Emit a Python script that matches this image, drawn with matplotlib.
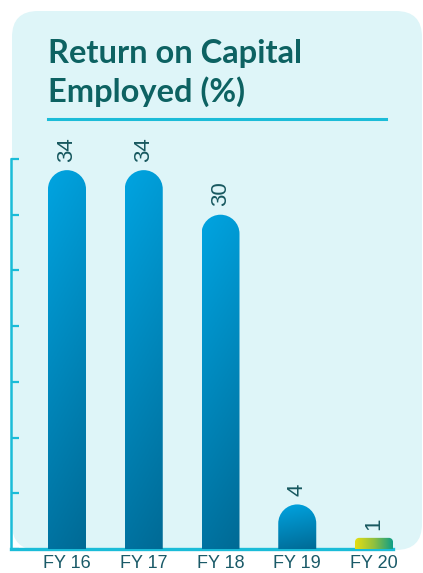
import numpy as np
import matplotlib
matplotlib.use("Agg")
import matplotlib.pyplot as plt
from matplotlib.patches import FancyBboxPatch, PathPatch
from matplotlib.path import Path
from matplotlib.colors import LinearSegmentedColormap
from matplotlib.transforms import IdentityTransform

# ---- data ----
categories = ["FY 16", "FY 17", "FY 18", "FY 19", "FY 20"]
values = [34, 34, 30, 4, 1]
title_lines = ["Return on Capital", "Employed (%)"]

W, H = 423, 573
fig = plt.figure(figsize=(W / 100, H / 100), dpi=100)
fig.patch.set_facecolor("white")

# background panel (pixel coords, origin bottom-left)
panel = FancyBboxPatch((12 + 26, 23 + 26), 422 - 12 - 52, 562 - 23 - 52,
                       boxstyle="round,pad=26", transform=IdentityTransform(),
                       facecolor="#def5f8", edgecolor="none", zorder=-5)
fig.patches.append(panel)

teal = "#0d6262"
for j, line in enumerate(title_lines):
    fig.text(48 / W, 1 - (63 + 39 * j) / H, line, ha="left", va="baseline",
             fontsize=23.5, fontweight="bold", family="Lato", color=teal)
fig.add_artist(plt.Line2D([48 / W, 386 / W], [1 - 119 / H] * 2, color="#1bbcd8",
                          lw=2.2, transform=fig.transFigure))

# axes
ax = fig.add_axes([11 / W, 1 - 549 / H, (395 - 11) / W, (549 - 159) / H])
ax.patch.set_alpha(0)
x = np.arange(len(categories))
spacing = 76.75
xlim = (-(67 - 11) / spacing, (395 - 67) / spacing)
ax.set_xlim(*xlim)
ax.set_ylim(0, 35)
ax.set_yticks(np.arange(0, 36, 5))
ax.set_yticklabels([])
ax.tick_params(axis="y", direction="in", length=6, width=1.6, color="#1bbcd8")
ax.set_xticks(x)
ax.set_xticklabels(categories, fontsize=13, family="Liberation Sans", color="#1a5a68")
ax.tick_params(axis="x", length=0, pad=4.5)
for s in ["top", "right"]:
    ax.spines[s].set_visible(False)
ax.spines["left"].set_color("#1bbcd8")
ax.spines["left"].set_linewidth(1.8)
ax.spines["bottom"].set_color("#1bbcd8")
ax.spines["bottom"].set_linewidth(2.4)
ax.spines["bottom"].set_bounds(xlim[0], 4 + 19 / spacing)
ax.spines["bottom"].set_zorder(1)

bars = ax.bar(x, values, width=38 / spacing, color="none", edgecolor="none")

blue_cmap = LinearSegmentedColormap.from_list("b", ["#006a95", "#00a4e1"])
yg_cmap = LinearSegmentedColormap.from_list("yg", ["#e6de12", "#90c040", "#0e9e86"])

for i, (rect, v) in enumerate(zip(bars, values)):
    x0, y0 = rect.get_x(), rect.get_y()
    w, h = rect.get_width(), rect.get_height()
    (px0, py0) = ax.transData.transform((x0, y0))
    (px1, py1) = ax.transData.transform((x0 + w, y0 + h))
    pw = px1 - px0
    ph = py1 - py0
    r = min(pw / 2, ph) if i < 4 else 4
    k = 0.5523
    verts = [(px0, py0), (px1, py0), (px1, py1 - r),
             (px1, py1 - r + k * r), (px1 - r + k * r, py1), (px1 - r, py1),
             (px0 + r, py1),
             (px0 + r - k * r, py1), (px0, py1 - r + k * r), (px0, py1 - r),
             (px0, py0)]
    codes = [Path.MOVETO, Path.LINETO, Path.LINETO,
             Path.CURVE4, Path.CURVE4, Path.CURVE4,
             Path.LINETO,
             Path.CURVE4, Path.CURVE4, Path.CURVE4,
             Path.CLOSEPOLY]
    clip = PathPatch(Path(verts, codes), transform=IdentityTransform(),
                     facecolor="none", edgecolor="none")
    if i < 4:
        yy, xx = np.mgrid[0:1:200j, 0:1:50j]
        grad = 0.85 * yy + 0.15 * (1 - xx)
        cmap = blue_cmap
    else:
        grad = np.tile(np.linspace(0, 1, 100), (10, 1))
        cmap = yg_cmap
    im = ax.imshow(grad, cmap=cmap, vmin=0, vmax=1, origin="lower",
                   extent=[x0, x0 + w, y0, y0 + h], aspect="auto", zorder=2,
                   interpolation="bilinear")
    im.set_clip_path(clip)
    ax.annotate(str(v), (x[i], v), xytext=(0, 6), textcoords="offset points",
                rotation=90, ha="center", va="bottom", fontsize=16,
                family="Liberation Sans", color="#17585f")

ax.set_xlim(*xlim)
ax.set_ylim(0, 35)
fig.savefig("out.png", dpi=100)
